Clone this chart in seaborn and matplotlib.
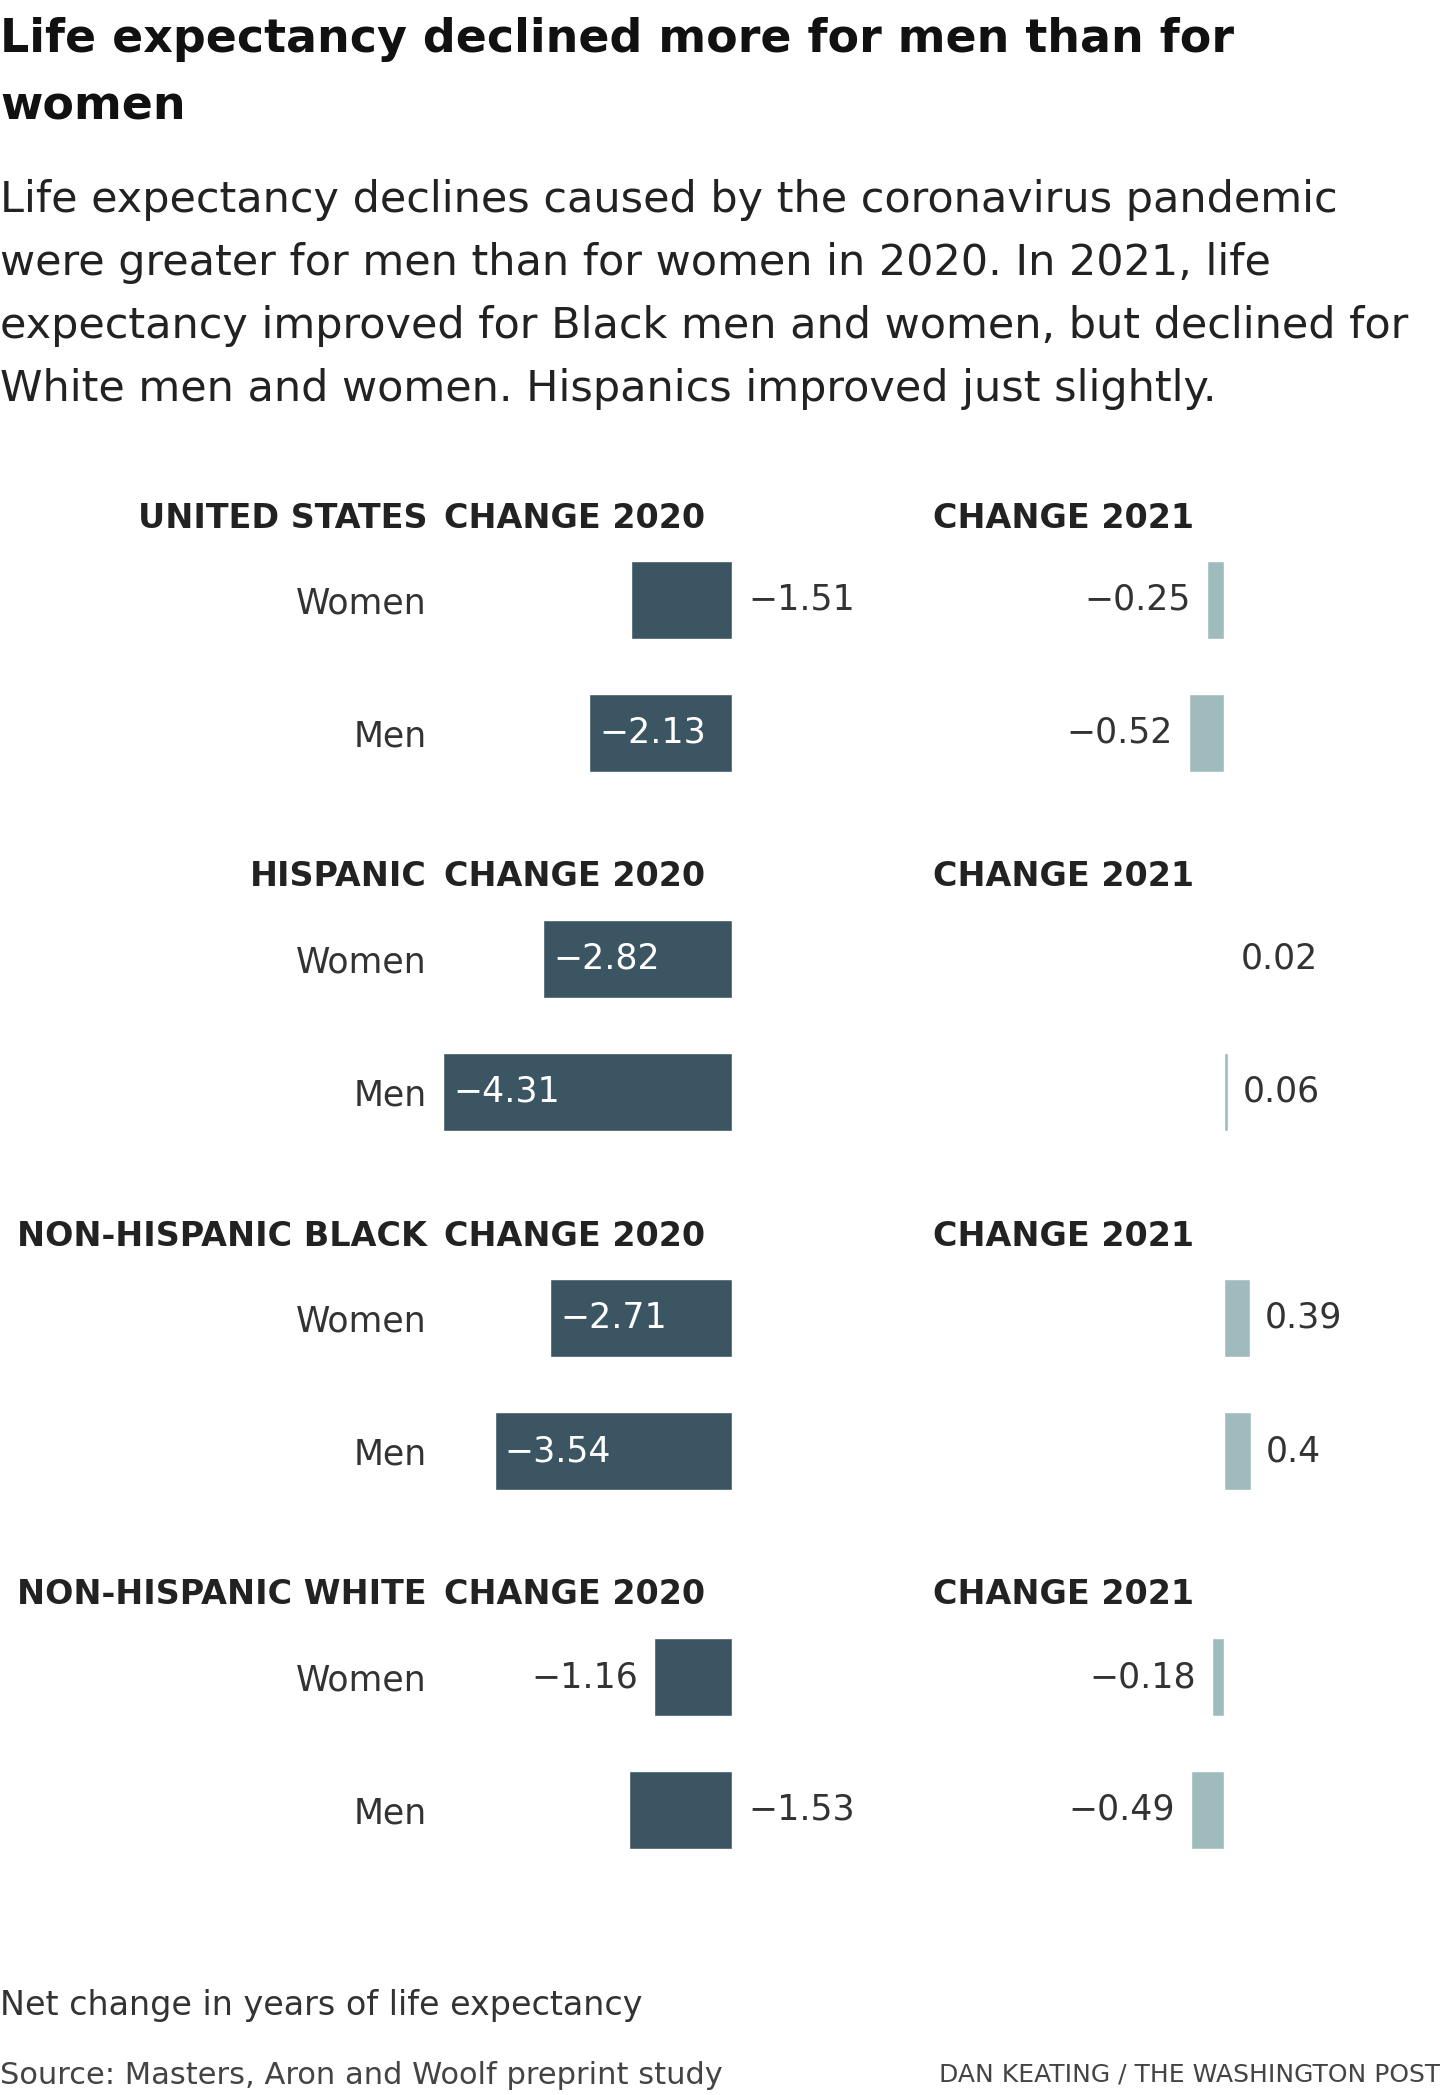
import pandas as pd
import seaborn as sns
import matplotlib.pyplot as plt

groups = ['UNITED STATES', 'HISPANIC', 'NON-HISPANIC BLACK', 'NON-HISPANIC WHITE']
sexes = ['Women', 'Men']
change_2020_women = [-1.51, -2.82, -2.71, -1.16]
change_2020_men = [-2.13, -4.31, -3.54, -1.53]
change_2021_women = [-0.25, 0.02, 0.39, -0.18]
change_2021_men = [-0.52, 0.06, 0.4, -0.49]
year_headers = ['CHANGE 2020', 'CHANGE 2021']

title_lines = ['Life expectancy declined more for men than for', 'women']
subtitle_lines = [
    'Life expectancy declines caused by the coronavirus pandemic',
    'were greater for men than for women in 2020. In 2021, life',
    'expectancy improved for Black men and women, but declined for',
    'White men and women. Hispanics improved just slightly.',
]
note = 'Net change in years of life expectancy'
source = 'Source: Masters, Aron and Woolf preprint study'
credit = 'DAN KEATING / THE WASHINGTON POST'

W, H = 1440, 2095
DARK = '#3c5563'
LIGHT = '#a0bbbd'
PX_UNIT = 67          # pixels per year of life expectancy
ZERO_2020, ZERO_2021 = 732, 1224
ROW_LEFT = 437        # left edge of 2020 axes
PANEL_TOP = 600       # centre of first "Women" bar
PANEL_STEP = 359
ROW_STEP = 133

sns.set_theme(style='white')
plt.rcParams['font.family'] = ['DejaVu Sans']

fig = plt.figure(figsize=(W / 100, H / 100), dpi=100)


def fx(x):
    return x / W


def fy(y):
    return 1 - y / H


def fmt(v):
    return str(v).replace('-', '\u2212')


# where the 2020 label goes (inside the bar / right of zero / left of bar)
side_2020 = {(0, 0): 'zero', (3, 0): 'left', (3, 1): 'zero'}

for i, g in enumerate(groups):
    c_women = PANEL_TOP + i * PANEL_STEP
    top = c_women - ROW_STEP / 2
    h = 2 * ROW_STEP
    df = pd.DataFrame({
        'sex': sexes,
        'c2020': [change_2020_women[i], change_2020_men[i]],
        'c2021': [change_2021_women[i], change_2021_men[i]],
    })

    ax1 = fig.add_axes([fx(ROW_LEFT), fy(top + h), (ZERO_2020 - ROW_LEFT) / W, h / H])
    sns.barplot(data=df, x='c2020', y='sex', orient='h', color=DARK, width=0.58,
                saturation=1, ax=ax1)
    ax1.set_xlim(-(ZERO_2020 - ROW_LEFT) / PX_UNIT, 0)

    ax2 = fig.add_axes([fx(ZERO_2021 - 100), fy(top + h), 200 / W, h / H])
    sns.barplot(data=df, x='c2021', y='sex', orient='h', color=LIGHT, width=0.58,
                saturation=1, ax=ax2)
    ax2.set_xlim(-100 / PX_UNIT, 100 / PX_UNIT)

    for ax in (ax1, ax2):
        sns.despine(ax=ax, left=True, bottom=True)
        ax.set_xlabel('')
        ax.set_ylabel('')
        ax.set_xticks([])
        ax.set_ylim(1.5, -0.5)
        ax.tick_params(axis='y', length=0, pad=7.2, labelsize=25, labelcolor='#333333')
    ax2.set_yticklabels([])

    for j, p in enumerate(ax1.patches):
        v = df['c2020'][j]
        y = p.get_y() + p.get_height() / 2
        side = side_2020.get((i, j), 'inside')
        if side == 'inside':
            ax1.annotate(fmt(v), (v, y), xytext=(10, 0), textcoords='offset pixels',
                         ha='left', va='center', fontsize=25, color='white',
                         annotation_clip=False)
        elif side == 'zero':
            ax1.annotate(fmt(v), (0, y), xytext=(16, 0), textcoords='offset pixels',
                         ha='left', va='center', fontsize=25, color='#333333',
                         annotation_clip=False)
        else:
            ax1.annotate(fmt(v), (v, y), xytext=(-16, 0), textcoords='offset pixels',
                         ha='right', va='center', fontsize=25, color='#333333',
                         annotation_clip=False)

    for j, p in enumerate(ax2.patches):
        v = df['c2021'][j]
        y = p.get_y() + p.get_height() / 2
        off = 15 if v > 0 else -16
        ax2.annotate(fmt(v), (v, y), xytext=(off, 0), textcoords='offset pixels',
                     ha='left' if v > 0 else 'right', va='center', fontsize=25,
                     color='#333333', annotation_clip=False)

    hy = 518 + i * PANEL_STEP
    fig.text(fx(427), fy(hy), g, ha='right', va='center', fontsize=24,
             fontweight='bold', color='#222222')
    fig.text(fx(705), fy(hy), year_headers[0], ha='right', va='center', fontsize=24,
             fontweight='bold', color='#222222')
    fig.text(fx(1194), fy(hy), year_headers[1], ha='right', va='center', fontsize=24,
             fontweight='bold', color='#222222')

for k, line in enumerate(title_lines):
    fig.text(0, fy(40 + 67 * k), line, ha='left', va='center', fontsize=33,
             fontweight='bold', color='#111111')
for k, line in enumerate(subtitle_lines):
    fig.text(0, fy(200 + 63 * k), line, ha='left', va='center', fontsize=31,
             color='#222222')

fig.text(0, fy(2005), note, ha='left', va='center', fontsize=24, color='#333333')
fig.text(0, fy(2075), source, ha='left', va='center', fontsize=22, color='#444444')
fig.text(1, fy(2075), credit, ha='right', va='center', fontsize=18, color='#444444')

fig.savefig('out.png', dpi=100)
